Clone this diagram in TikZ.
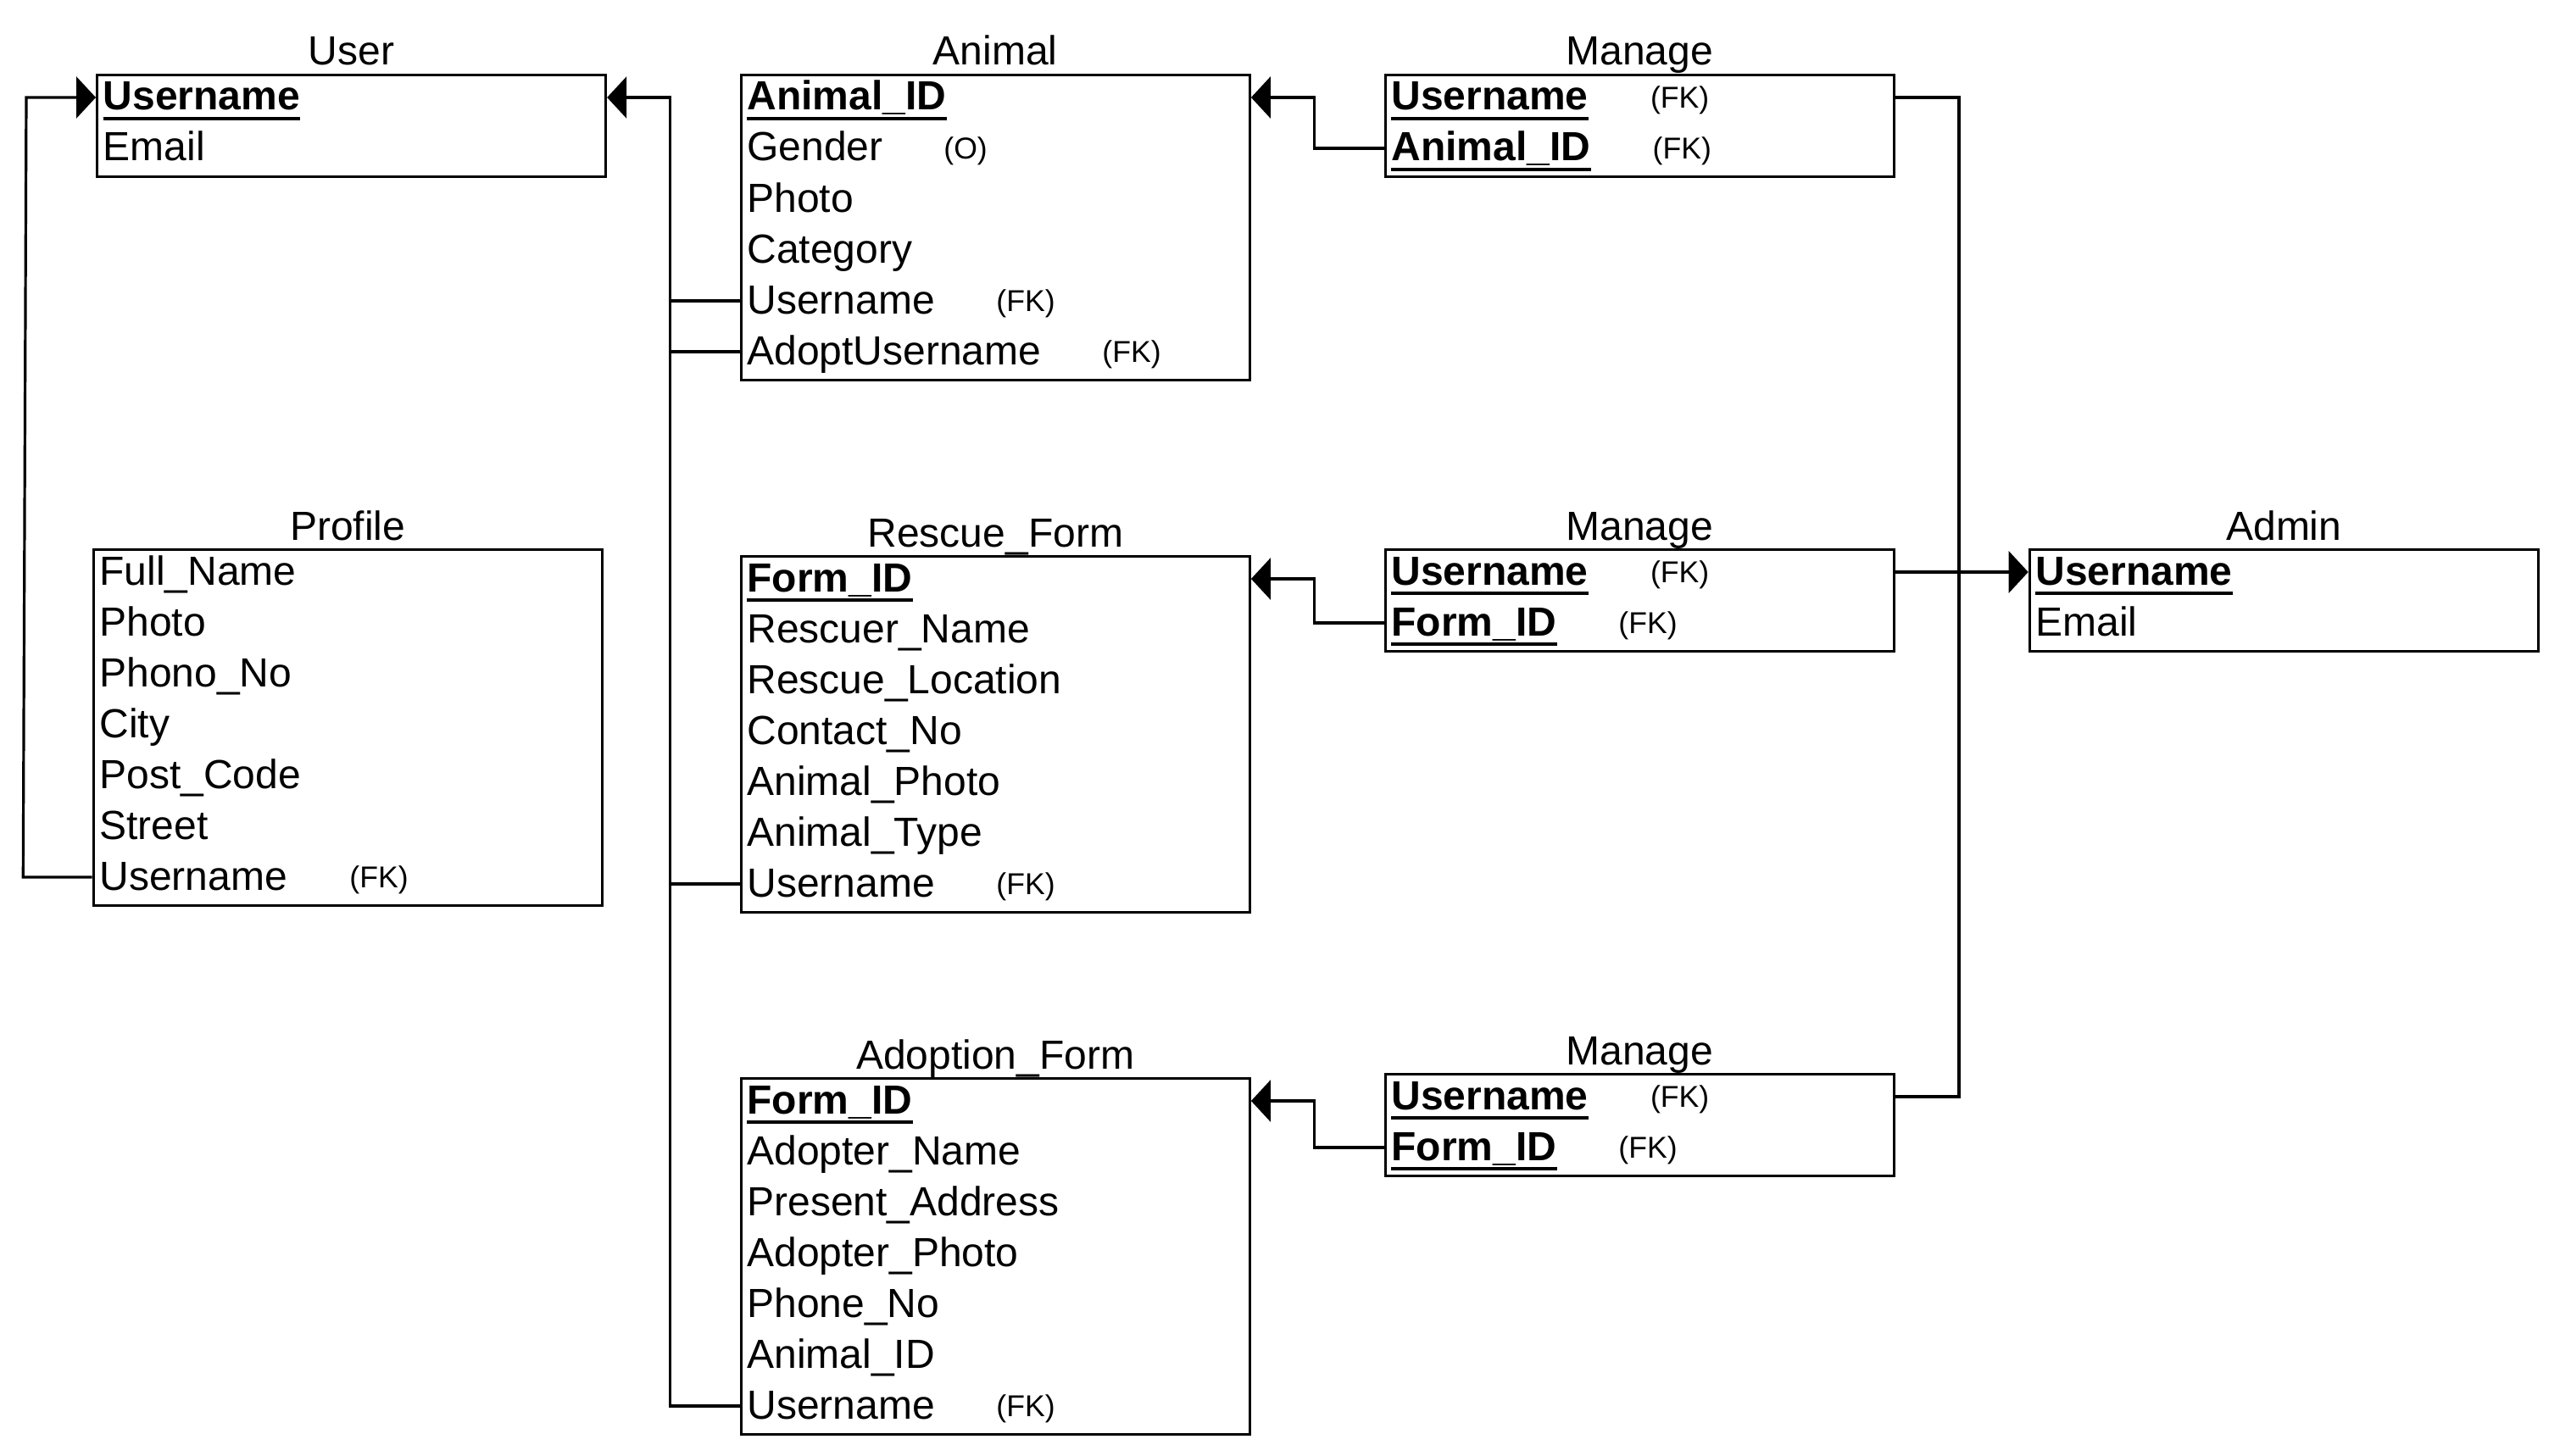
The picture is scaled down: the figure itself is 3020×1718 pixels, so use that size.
\documentclass[tikz,border=0pt]{standalone}
\usepackage{fontspec}
\setmainfont{Liberation Sans}
\usetikzlibrary{arrows.meta}
\begin{document}
\begin{tikzpicture}[x=0.5pt,y=-0.5pt,
  tbl/.style={draw, line width=1.6pt, rectangle, minimum width=300pt, anchor=north west, inner sep=0pt},
  attr/.style={font=\fontsize{24}{28}\selectfont, inner sep=0pt, text height=22pt, text depth=7pt, anchor=west},
  keyattr/.style={attr, font=\fontsize{24}{28}\selectfont\bfseries},
  fk/.style={font=\fontsize{17.8}{20}\selectfont, inner sep=0pt, text height=20pt, text depth=8pt, anchor=west},
  ttl/.style={font=\fontsize{24}{28}\selectfont, inner sep=0pt, anchor=base},
  ul/.style={line width=1.7pt},
  conn/.style={line width=1.6pt},
  arr/.style={-{Triangle[length=11.5pt,width=24.5pt]}}
]
\useasboundingbox[fill=white] (0,0) rectangle (3020,1718);

% ---------- tables ----------
\node[tbl, minimum height=60pt] (user) at (113,87) {};
\node[tbl, minimum height=210pt] (profile) at (108.5,647) {};
\node[tbl, minimum height=180pt] (animal) at (872.7,87) {};
\node[tbl, minimum height=210pt] (rescue) at (872.7,655) {};
\node[tbl, minimum height=210pt] (adoption) at (872.7,1271) {};
\node[tbl, minimum height=60pt] (manage1) at (1632.5,87) {};
\node[tbl, minimum height=60pt] (manage2) at (1632.5,647) {};
\node[tbl, minimum height=60pt] (manage3) at (1632.5,1266) {};
\node[tbl, minimum height=60pt] (admin) at (2392.7,647) {};

% ---------- titles ----------
\node[ttl] (userT) at ([yshift=5pt]user.north) {User};
\node[ttl] (profileT) at ([yshift=5pt]profile.north) {Profile};
\node[ttl] (animalT) at ([yshift=5pt]animal.north) {Animal};
\node[ttl] (rescueT) at ([yshift=5pt]rescue.north) {Rescue\_Form};
\node[ttl] (adoptionT) at ([yshift=5pt]adoption.north) {Adoption\_Form};
\node[ttl] (manage1T) at ([yshift=5pt]manage1.north) {Manage};
\node[ttl] (manage2T) at ([yshift=5pt]manage2.north) {Manage};
\node[ttl] (manage3T) at ([yshift=5pt]manage3.north) {Manage};
\node[ttl] (adminT) at ([yshift=5pt]admin.north) {Admin};

% ---------- User ----------
\node[keyattr] (uU) at (121.5,115) {Username};
\node[attr] (uE) at (121.5,175) {Email};

% ---------- Profile ----------
\node[attr] (p1) at (117,675) {Full\_Name};
\node[attr] (p2) at (117,735) {Photo};
\node[attr] (p3) at (117,795) {Phono\_No};
\node[attr] (p4) at (117,855) {City};
\node[attr] (p5) at (117,915) {Post\_Code};
\node[attr] (p6) at (117,975) {Street};
\node[attr] (pU) at (117,1035) {Username};
\node[fk] (pUfk) at (412,1035) {(FK)};

% ---------- Animal ----------
\node[keyattr] (anID) at (881,115) {Animal\_ID};
\node[attr] (an2) at (881,175) {Gender};
\node[fk] (an2o) at (1113,175) {(O)};
\node[attr] (an3) at (881,235) {Photo};
\node[attr] (an4) at (881,295) {Category};
\node[attr] (anU) at (881,355) {Username};
\node[fk] (anUfk) at (1175,355) {(FK)};
\node[attr] (anAU) at (881,415) {AdoptUsername};
\node[fk] (anAUfk) at (1300,415) {(FK)};

% ---------- Rescue_Form ----------
\node[keyattr] (rsF) at (881,683) {Form\_ID};
\node[attr] (rs2) at (881,743) {Rescuer\_Name};
\node[attr] (rs3) at (881,803) {Rescue\_Location};
\node[attr] (rs4) at (881,863) {Contact\_No};
\node[attr] (rs5) at (881,923) {Animal\_Photo};
\node[attr] (rs6) at (881,983) {Animal\_Type};
\node[attr] (rsU) at (881,1043) {Username};
\node[fk] (rsUfk) at (1175,1043) {(FK)};

% ---------- Adoption_Form ----------
\node[keyattr] (adF) at (881,1299) {Form\_ID};
\node[attr] (ad2) at (881,1359) {Adopter\_Name};
\node[attr] (ad3) at (881,1419) {Present\_Address};
\node[attr] (ad4) at (881,1479) {Adopter\_Photo};
\node[attr] (ad5) at (881,1539) {Phone\_No};
\node[attr] (ad6) at (881,1599) {Animal\_ID};
\node[attr] (adU) at (881,1659) {Username};
\node[fk] (adUfk) at (1175,1659) {(FK)};

% ---------- Manage 1 ----------
\node[keyattr] (m1U) at (1641,115) {Username};
\node[fk] (m1Ufk) at (1946.7,115) {(FK)};
\node[keyattr] (m1A) at (1641,175) {Animal\_ID};
\node[fk] (m1Afk) at (1949.3,175) {(FK)};

% ---------- Manage 2 ----------
\node[keyattr] (m2U) at (1641,675) {Username};
\node[fk] (m2Ufk) at (1946.7,675) {(FK)};
\node[keyattr] (m2F) at (1641,735) {Form\_ID};
\node[fk] (m2Ffk) at (1909,735) {(FK)};

% ---------- Manage 3 ----------
\node[keyattr] (m3U) at (1641,1294) {Username};
\node[fk] (m3Ufk) at (1946.7,1294) {(FK)};
\node[keyattr] (m3F) at (1641,1354) {Form\_ID};
\node[fk] (m3Ffk) at (1909,1354) {(FK)};

% ---------- Admin ----------
\node[keyattr] (adminU) at (2401,675) {Username};
\node[attr] (adminE) at (2401,735) {Email};

% ---------- underlines of keys ----------
\foreach \k in {uU,anID,rsF,adF,m1U,m1A,m2U,m2F,m3U,m3F,adminU}
  \draw[ul] ([yshift=-5pt]\k.base west) -- ([yshift=-5pt]\k.base east);

% ---------- connectors ----------
\coordinate (pb1) at (27.3,1035);
\coordinate (pb2) at (31,115);
\draw[conn,arr] (pU -| profile.west) -- (pb1) -- (pb2) -- (uU -| user.west);

\coordinate (bus) at (790.7,0);
\draw[conn,arr] (adU -| adoption.west) -- (adU -| bus) -- (uU -| bus) -- (uU -| user.east);
\draw[conn] (anU -| animal.west) -- (anU -| bus);
\draw[conn] (anAU -| animal.west) -- (anAU -| bus);
\draw[conn] (rsU -| rescue.west) -- (rsU -| bus);

\coordinate (mb) at (1550.7,0);
\draw[conn,arr] (m1A -| manage1.west) -- (m1A -| mb) -- (anID -| mb) -- (anID -| animal.east);
\draw[conn,arr] (m2F -| manage2.west) -- (m2F -| mb) -- (rsF -| mb) -- (rsF -| rescue.east);
\draw[conn,arr] (m3F -| manage3.west) -- (m3F -| mb) -- (adF -| mb) -- (adF -| adoption.east);

\coordinate (rb) at (2311,0);
\draw[conn] (m1U -| manage1.east) -- (m1U -| rb) -- (m3U -| rb) -- (m3U -| manage3.east);
\draw[conn,arr] (m2U -| manage2.east) -- (adminU -| admin.west);
\end{tikzpicture}
\end{document}
